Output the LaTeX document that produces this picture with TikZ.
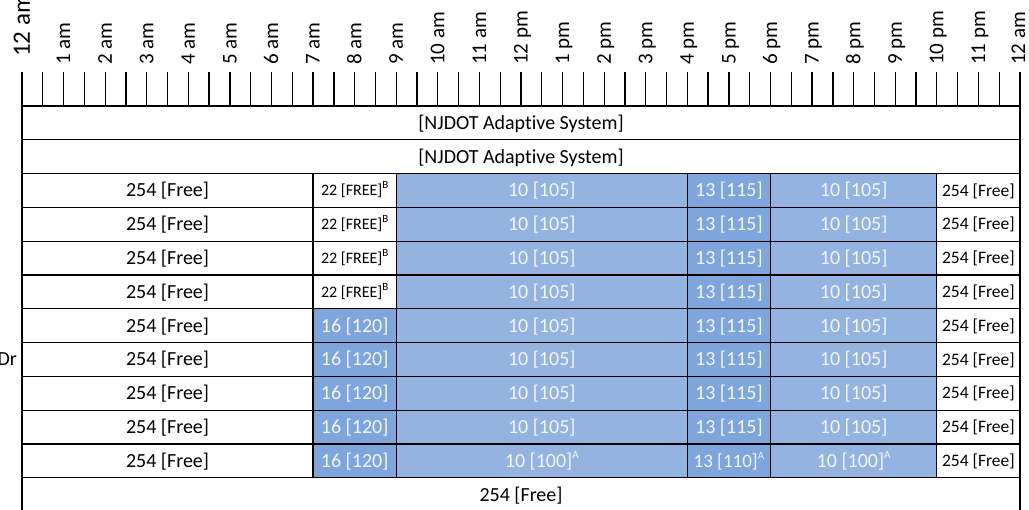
\documentclass[tikz,border=0pt]{standalone}
\usepackage{fontspec}
\setmainfont{Carlito}[Ligatures=NoCommon]

\definecolor{slotlight}{HTML}{95B3E0}
\definecolor{slotdark}{HTML}{7FA6DC}
\definecolor{slottext}{HTML}{F3F6FB}

% superscript note mark
\newcommand\notemark[1]{\raisebox{0.42em}{\fontsize{11}{11}\selectfont #1}}

% \slot{name}{start hour}{end hour}{row}{style}{text}
\newcommand\slot[6]{%
  \pgfmathsetmacro\sx{22+41.583*(#2+#3)/2}%
  \pgfmathsetmacro\sw{41.583*(#3-#2)}%
  \pgfmathsetmacro\sy{106+33.8*(#4+0.5)}%
  \node[cell,#5,minimum width=\sw pt] (#1) at (\sx,\sy) {#6};%
}

\tikzset{
  cell/.style={draw, line width=1.3pt, inner sep=0pt, minimum height=33.8pt,
    font=\fontsize{20}{24}\selectfont, text height=13pt, text depth=0pt},
  freecell/.style={fill=white, text=black},
  lightslot/.style={fill=slotlight, text=slottext},
  darkslot/.style={fill=slotdark, text=slottext},
  smallcell/.style={font=\fontsize{16}{19}\selectfont, text height=10.4pt},
  edgecell/.style={font=\fontsize{17.5}{21}\selectfont, text height=11.4pt},
  tick/.style={line width=1.3pt},
  hourlabel/.style={rotate=90, anchor=base west, inner sep=0pt,
    font=\fontsize{21}{25}\selectfont},
}

\begin{document}
\begin{tikzpicture}[x=1pt, y=-1pt]
  \useasboundingbox (0,0) rectangle (1029,510);
  \clip (0,0) rectangle (1029,510);

  % half-hour ticks of the time axis
  \foreach \i in {0,...,48}
    \draw[tick] ({22+20.7917*\i},72) -- ({22+20.7917*\i},106);

  % hour labels
  \node[hourlabel, font=\fontsize{25}{30}\selectfont] (hour-0) at (30,57) {12 am};
  \foreach \h/\t in {1/1 am, 2/2 am, 3/3 am, 4/4 am, 5/5 am, 6/6 am, 7/7 am,
      8/8 am, 9/9 am, 10/10 am, 11/11 am, 12/12 pm, 13/1 pm, 14/2 pm,
      15/3 pm, 16/4 pm, 17/5 pm, 18/6 pm, 19/7 pm, 20/8 pm, 21/9 pm,
      22/10 pm, 23/11 pm}
    \node[hourlabel] (hour-\h) at ({22+41.583*\h+6.6},65) {\t};
  \node[hourlabel] (hour-24) at (1025,65) {12 am};

  % full-day rows
  \slot{sys-0}{0}{24}{0}{freecell}{[NJDOT Adaptive System]}
  \slot{sys-1}{0}{24}{1}{freecell}{[NJDOT Adaptive System]}

  % plan rows with the free-running early block
  \foreach \r in {2,...,5} {
    \slot{early-\r}{0}{7}{\r}{freecell}{254 [Free]}
    \slot{morning-\r}{7}{9}{\r}{freecell,smallcell}{22 [FREE]\notemark{B}}
    \slot{day-\r}{9}{16}{\r}{lightslot}{10 [105]}
    \slot{peak-\r}{16}{18}{\r}{darkslot}{13 [115]}
    \slot{evening-\r}{18}{22}{\r}{lightslot}{10 [105]}
    \slot{night-\r}{22}{24}{\r}{freecell,edgecell}{254 [Free]}
  }

  % plan rows with the morning peak plan
  \foreach \r in {6,...,9} {
    \slot{early-\r}{0}{7}{\r}{freecell}{254 [Free]}
    \slot{morning-\r}{7}{9}{\r}{darkslot}{16 [120]}
    \slot{day-\r}{9}{16}{\r}{lightslot}{10 [105]}
    \slot{peak-\r}{16}{18}{\r}{darkslot}{13 [115]}
    \slot{evening-\r}{18}{22}{\r}{lightslot}{10 [105]}
    \slot{night-\r}{22}{24}{\r}{freecell,edgecell}{254 [Free]}
  }

  \slot{early-10}{0}{7}{10}{freecell}{254 [Free]}
  \slot{morning-10}{7}{9}{10}{darkslot}{16 [120]}
  \slot{day-10}{9}{16}{10}{lightslot}{10 [100]\notemark{A}}
  \slot{peak-10}{16}{18}{10}{darkslot,font=\fontsize{19}{23}\selectfont}{13 [110]\notemark{A}}
  \slot{evening-10}{18}{22}{10}{lightslot}{10 [100]\notemark{A}}
  \slot{night-10}{22}{24}{10}{freecell,edgecell}{254 [Free]}

  \slot{free-11}{0}{24}{11}{freecell}{254 [Free]}

  % side label
  \node[anchor=base east, inner sep=0pt, font=\fontsize{20}{24}\selectfont]
    (side) at (17,366) {Dr};
\end{tikzpicture}
\end{document}
